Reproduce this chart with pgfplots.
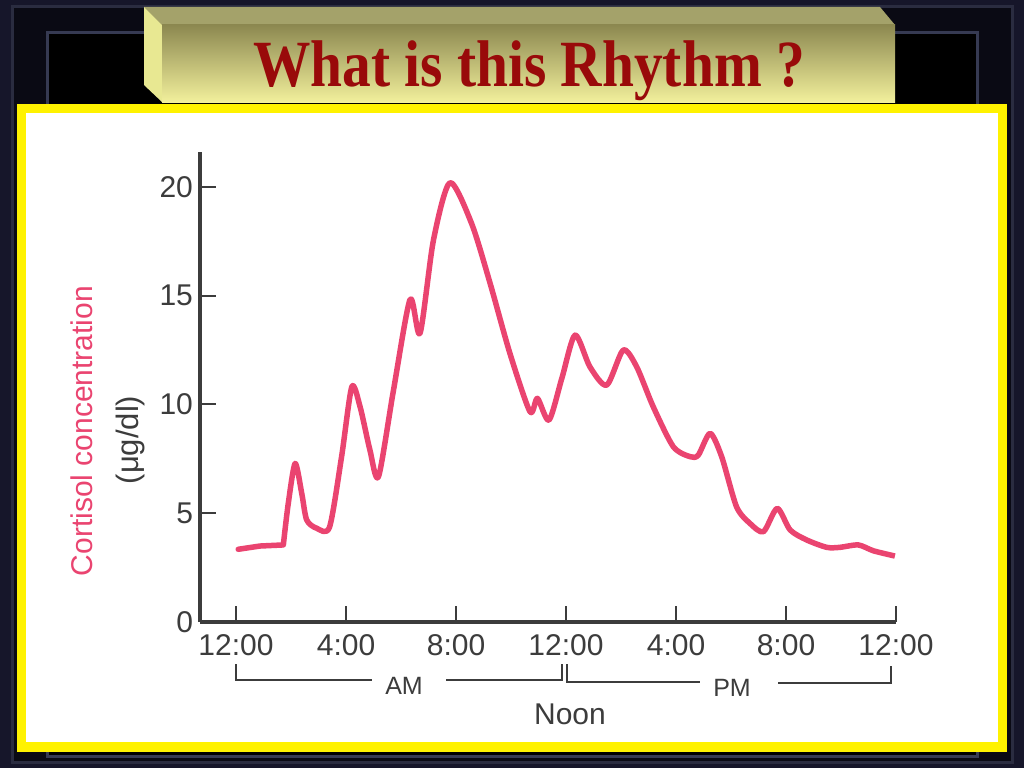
\documentclass[border=0pt]{standalone}
\usepackage{pgfplots}
\pgfplotsset{compat=1.18}
\usepackage{fontspec}
\setmainfont{Liberation Serif}
\newfontfamily\sans{Liberation Sans}
\definecolor{navy}{HTML}{16162A}
\definecolor{band}{HTML}{0A0A14}
\definecolor{frameA}{HTML}{2A2C40}
\definecolor{frameB}{HTML}{363A52}
\definecolor{olive}{HTML}{8C8850}
\definecolor{paleyel}{HTML}{F2F09C}
\definecolor{topface}{HTML}{A4A26A}
\definecolor{leftface}{HTML}{E8E892}
\definecolor{titlered}{HTML}{990A0A}
\definecolor{curve}{HTML}{EA4470}
\definecolor{ink}{HTML}{3C3C3C}
\begin{document}
\begin{tikzpicture}
\begin{scope}[x=0.5pt,y=-0.5pt,shift={(0,384pt)}]
\path[use as bounding box] (0,0) rectangle (1024,768);
\fill[navy] (0,0) rectangle (1024,768);
\fill[band] (12,7) rectangle (1012,762);
\draw[frameA,line width=1.5pt] (12,7) rectangle (1012,762);
\fill[black] (47,33) rectangle (977,756);
\draw[frameB,line width=1.5pt] (47,33) rectangle (977,756);
% title box
\fill[topface] (144,7) -- (880,7) -- (895,25) -- (162,25) -- cycle;
\fill[leftface] (144,7) -- (162,25) -- (162,102) -- (144,85) -- cycle;
\shade[top color=olive, bottom color=paleyel] (162,25) rectangle (895,102);
\node[anchor=base, text=titlered, xscale=0.87, inner sep=0pt,
      font=\fontsize{33pt}{38pt}\selectfont\bfseries] at (529,86) {What is this Rhythm ?};
% panel
\fill[yellow] (17,104) rectangle (1007,752);
\fill[white] (26,113) rectangle (998,742);
% y labels
\node[rotate=90, text=curve, font=\sans\fontsize{15pt}{18pt}\selectfont] at (82,431) {Cortisol concentration};
\node[rotate=90, text=ink, font=\sans\fontsize{15.5pt}{18pt}\selectfont] at (130,440) {(μg/dl)};
% brackets
\draw[ink, line width=1pt] (236,664) -- (236,680) -- (372,680);
\draw[ink, line width=1pt] (446,680) -- (562,680) -- (562,664);
\draw[ink, line width=1pt] (567,664) -- (567,682) -- (700,682);
\draw[ink, line width=1pt] (778,683) -- (891,683) -- (891,666);
\node[text=ink, font=\sans\fontsize{12.5pt}{15pt}\selectfont] at (404,686) {AM};
\node[text=ink, font=\sans\fontsize{12.5pt}{15pt}\selectfont] at (732,688) {PM};
\node[text=ink, font=\sans\fontsize{15pt}{18pt}\selectfont] at (570,714) {Noon};
\end{scope}
\begin{axis}[at={(100pt,73.15pt)}, anchor=south west, scale only axis,
  width=348pt, height=234.85pt,
  xmin=-1.31, xmax=24, ymin=0, ymax=21.6,
  axis x line*=bottom, axis y line*=left,
  axis line style={-, line width=2pt, color=ink},
  xtick={0,4,8,12,16,20,24},
  xticklabels={12:00,4:00,8:00,12:00,4:00,8:00,12:00},
  ytick={0,5,10,15,20},
  yticklabels={0,5,10,15,20},
  tick align=inside,
  major tick length=8pt,
  tick style={line width=1pt, color=ink},
  x tick label style={font=\sans\fontsize{15pt}{18pt}\selectfont, text=ink, yshift=-3pt},
  y tick label style={font=\sans\fontsize{15pt}{18pt}\selectfont, text=ink},
  clip=false]
\addplot[curve, line width=2.75pt, line cap=round, line join=round] coordinates {
(0.08,3.33) (0.87,3.48) (1.72,3.53)
};
\addplot[curve, line width=2.75pt, line join=round, smooth, tension=0.45] coordinates {
(1.72,3.53) (1.90,5.44) (2.15,7.28) (2.39,5.9)
(2.57,4.68) (2.93,4.30) (3.40,4.35) (3.84,7.6) (4.21,10.8) (4.51,9.89) (4.87,7.89)
(5.18,6.67) (5.72,10.6) (6.33,14.82) (6.69,13.26) (7.18,17.55) (7.78,20.19)
(8.57,18.3) (9.24,15.56) (9.96,12.34) (10.69,9.66) (10.96,10.27) (11.38,9.27)
(11.85,11.2) (12.33,13.18) (12.87,11.72) (13.48,10.88) (14.08,12.49)
(14.57,11.72) (15.17,9.89) (15.9,8.05) (16.51,7.59) (16.81,7.66) (17.24,8.66)
(17.66,7.59) (18.2,5.29) (18.69,4.52) (19.18,4.14) (19.68,5.21) (20.15,4.22)
(20.75,3.76) (21.48,3.42) (21.96,3.42) (22.63,3.53) (23.18,3.26) (23.96,3.02)
};
\end{axis}
\end{tikzpicture}
\end{document}
